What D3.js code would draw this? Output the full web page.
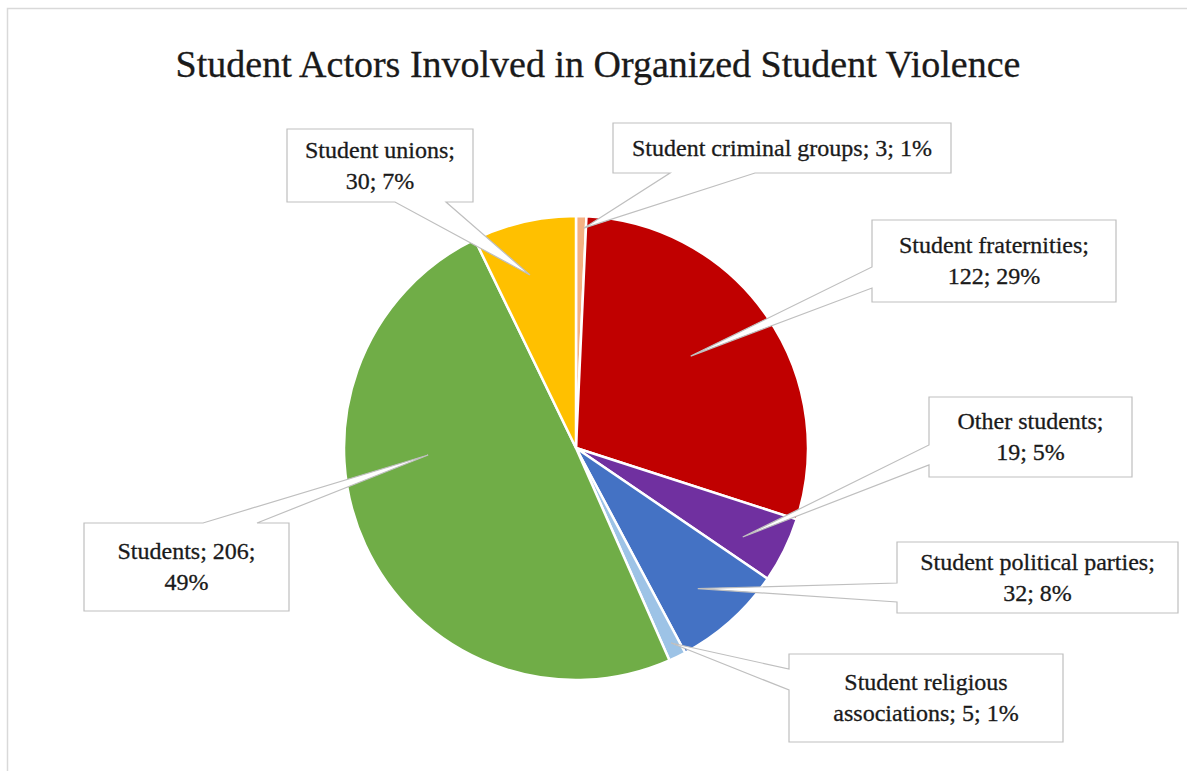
<!DOCTYPE html>
<html>
<head>
<meta charset="utf-8">
<script src="https://cdn.jsdelivr.net/npm/d3@7"></script>
<style>
  html, body { margin: 0; padding: 0; background: #fff; }
  svg { display: block; }
  text { font-family: "Liberation Serif", "DejaVu Serif", serif; fill: #1a1a1a; stroke: #1a1a1a; stroke-width: 0.3; }
</style>
</head>
<body>
<svg id="chart" width="1187" height="771"></svg>
<script>
// Series, in drawing order (clockwise from 12 o'clock)
const categories = [
  "Student criminal groups",
  "Student fraternities",
  "Other students",
  "Student political parties",
  "Student religious associations",
  "Students",
  "Student unions"
];
const values = [3, 122, 19, 32, 5, 206, 30];
const sliceColors = ["#F4B183", "#C00000", "#7030A0", "#4472C4", "#9DC3E6", "#70AD47", "#FFC000"];
const title = "Student Actors Involved in Organized Student Violence";

// Callout placement: box rectangle, which side the pointer leaves from,
// where along that side, the pointer tip (polar, relative to pie centre)
// and how many words sit on the first text line.
const calloutBoxes = [
  { x: 613, y: 123, w: 338, h: 50, side: "bottom", a: 670, b: 755, tipAngle: 2.0,   tipR: 220, firstLine: 99 },
  { x: 872, y: 220, w: 244, h: 82, side: "left",   a: 267, b: 288, tipAngle: 51.3,  tipR: 147, firstLine: 2 },
  { x: 929, y: 397, w: 203, h: 80, side: "left",   a: 445, b: 465, tipAngle: 118.1, tipR: 189, firstLine: 2 },
  { x: 897, y: 542, w: 281, h: 71, side: "left",   a: 583, b: 602, tipAngle: 139.1, tipR: 186, firstLine: 3 },
  { x: 789, y: 654, w: 274, h: 88, side: "left",   a: 669, b: 690, tipAngle: 154.0, tipR: 217, firstLine: 2 },
  { x: 84,  y: 523, w: 205, h: 88, side: "top",    a: 203, b: 257, tipAngle: 267.3, tipR: 148, firstLine: 2 },
  { x: 287, y: 129, w: 186, h: 73, side: "bottom", a: 395, b: 446, tipAngle: 345.1, tipR: 179, firstLine: 2 }
];

const svg = d3.select("#chart");
const W = 1187, H = 771;
const cx = 576, cy = 448, radius = 232;

// chart area frame (top and left edges visible)
svg.append("path")
  .attr("d", `M7.5,${H} V8.5 H${W}`)
  .attr("fill", "none")
  .attr("stroke", "#d9d9d9")
  .attr("stroke-width", 1.5);

// title
svg.append("text")
  .attr("x", 598)
  .attr("y", 77)
  .attr("text-anchor", "middle")
  .attr("font-size", 38)
  .text(title);

const total = d3.sum(values);
const data = categories.map((c, i) => ({ name: c, value: values[i], color: sliceColors[i], box: calloutBoxes[i] }));

const pie = d3.pie().value(d => d.value).sort(null).startAngle(0).endAngle(2 * Math.PI);
const arc = d3.arc().innerRadius(0).outerRadius(radius);
const arcs = pie(data);

const g = svg.append("g").attr("transform", `translate(${cx},${cy})`);
g.selectAll("path.slice")
  .data(arcs)
  .join("path")
  .attr("class", "slice")
  .attr("d", arc)
  .attr("fill", d => d.data.color)
  .attr("stroke", "#fff")
  .attr("stroke-width", 2.5)
  .attr("stroke-linejoin", "round");

// callouts: rectangle with a wedge pointer into its slice
function calloutPath(b, tx, ty) {
  const L = b.x, T = b.y, R = b.x + b.w, B = b.y + b.h;
  if (b.side === "left")
    return `M${L},${T}H${R}V${B}H${L}V${b.b}L${tx},${ty}L${L},${b.a}Z`;
  if (b.side === "bottom")
    return `M${L},${T}H${R}V${B}H${b.b}L${tx},${ty}L${b.a},${B}H${L}Z`;
  return `M${L},${T}H${b.a}L${tx},${ty}L${b.b},${T}H${R}V${B}H${L}Z`;
}

const lineHeight = 31;
const fontSize = 24;
const labels = svg.append("g");
arcs.forEach(d => {
  const b = d.data.box;
  const ang = b.tipAngle * Math.PI / 180;
  const tx = cx + b.tipR * Math.sin(ang);
  const ty = cy - b.tipR * Math.cos(ang);
  labels.append("path")
    .attr("d", calloutPath(b, tx, ty))
    .attr("fill", "#fff")
    .attr("stroke", "#bfbfbf")
    .attr("stroke-width", 1.2)
    .attr("stroke-linejoin", "miter");

  const pct = Math.round(d.data.value / total * 100);
  const words = `${d.data.name}; ${d.data.value}; ${pct}%`.split(" ");
  const lines = [words.slice(0, b.firstLine).join(" "), words.slice(b.firstLine).join(" ")].filter(s => s.length);
  const midY = b.y + b.h / 2;
  const firstY = midY - (lines.length - 1) * lineHeight / 2 + fontSize * 0.32;
  const t = labels.append("text")
    .attr("text-anchor", "middle")
    .attr("font-size", fontSize);
  lines.forEach((ln, i) => {
    t.append("tspan")
      .attr("x", b.x + b.w / 2)
      .attr("y", firstY + i * lineHeight)
      .text(ln);
  });
});
</script>
</body>
</html>
